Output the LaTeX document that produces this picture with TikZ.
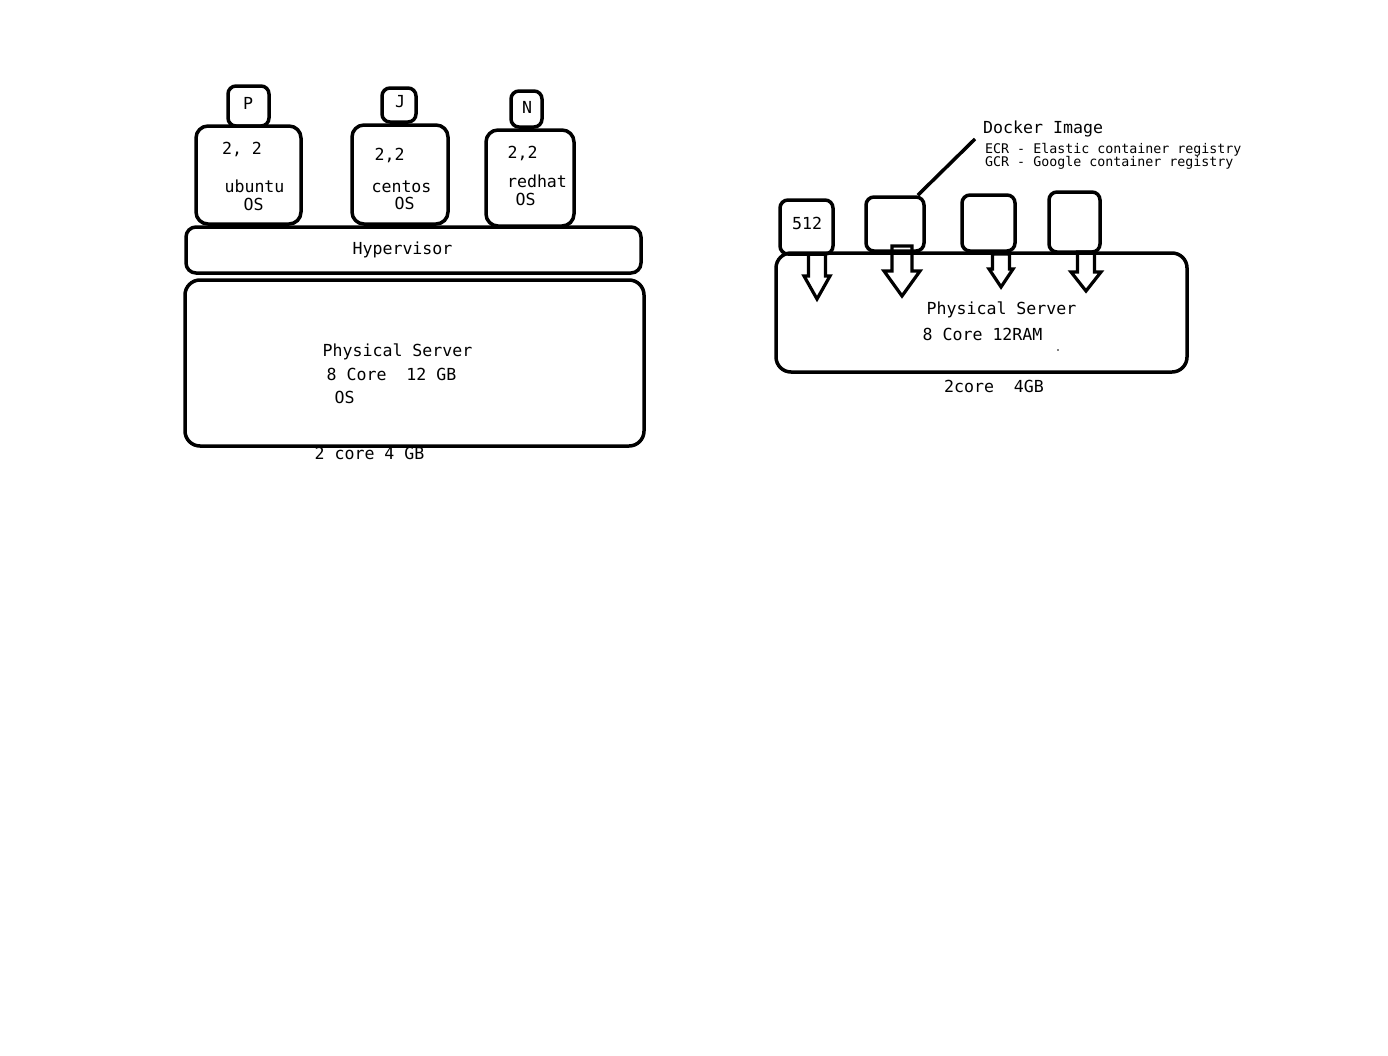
\documentclass[tikz,border=0pt]{standalone}
\usepackage{fontspec}
\setmonofont{DejaVu Sans Mono}
\usepackage{tikz}
\usetikzlibrary{positioning}
\tikzset{box/.style = {draw, line width=3.5pt, rounded corners=12pt, inner sep=0pt}}
\tikzset{arrowline/.style = {draw, line width=3.2pt, line join=miter}}
\newcommand{\dockarrow}[6]{% x, top, head top, tip, shaft half, head half
  \draw[arrowline] (#1-#5,#2) -- (#1-#5,#3) -- (#1-#6,#3) -- (#1,#4) -- (#1+#6,#3) -- (#1+#5,#3) -- (#1+#5,#2) -- cycle;}

\begin{document}
\begin{tikzpicture}[x=1pt,y=-1pt,
    lbl/.style={inner sep=0pt, font=\ttfamily\fontsize{16.6}{19}\selectfont},
    small lbl/.style={inner sep=0pt, anchor=west, font=\ttfamily\fontsize{13.3}{13}\selectfont}]
                \useasboundingbox (0,0) rectangle (1388,1055);

                % virtual machines
                \node[box, rounded corners=8pt, minimum width=41, minimum height=40] (P) at (248.5,106) {};
                \node[box, minimum width=105, minimum height=98] (ubuntu) at (248.5,175) {};
                \node[box, rounded corners=8pt, minimum width=34, minimum height=34] (J) at (399,105) {};
                \node[box, minimum width=96, minimum height=99] (centos) at (400,174.5) {};
                \node[box, rounded corners=8pt, minimum width=31, minimum height=36] (N) at (526.5,109) {};
                \node[box, minimum width=88, minimum height=96] (redhat) at (530,178) {};
                \node[box, rounded corners=10pt, minimum width=455, minimum height=46] (hyper) at (413.5,250) {};
                \node[box, rounded corners=15pt, minimum width=459, minimum height=166] (server) at (414.5,363) {};

                \node[lbl] (Plbl) at (248,103) {P};
                \node[lbl] (Jlbl) at (400,102) {J};
                \node[lbl] (Nlbl) at (527,107) {N};
                \node[lbl] (ucpu) at (242,149) {2, 2};
                \node[lbl] (uname) at (254.5,186) {ubuntu};
                \node[lbl] (uos) at (253.5,204) {OS};
                \node[lbl] (ccpu) at (389.5,155) {2,2};
                \node[lbl] (cname) at (401.5,186.5) {centos};
                \node[lbl] (cos) at (404.5,203) {OS};
                \node[lbl] (rcpu) at (522.5,153) {2,2};
                \node[lbl] (rname) at (537,181) {redhat};
                \node[lbl] (ros) at (525.5,199) {OS};
                \node[lbl] (hlbl) at (402.5,250) {Hypervisor};
                \node[lbl] (s1) at (397.5,352) {Physical Server};
                \node[lbl] (s2) at (391.5,374) {8 Core~~12 GB};
                \node[lbl] (s3) at (344.5,397) {OS};
                \node[lbl] (s4) at (369.5,453) {2 core 4 GB};

                % containers
                \node[box, rounded corners=8pt, minimum width=53, minimum height=54] (c1) at (806.5,227) {};
                \node[box, rounded corners=8pt, minimum width=58, minimum height=54] (c2) at (895,224) {};
                \node[box, rounded corners=8pt, minimum width=53, minimum height=56] (c3) at (988.5,223) {};
                \node[box, rounded corners=8pt, minimum width=51, minimum height=60] (c4) at (1074.5,222) {};
                \node[box, rounded corners=15pt, minimum width=411, minimum height=119] (dserver) at (981.5,312.5) {};

                \dockarrow{817}{254}{276}{299}{8.5}{13}
                \dockarrow{902}{246}{271}{296}{10}{18}
                \dockarrow{1001}{254}{269}{287}{8.5}{12}
                \dockarrow{1086}{252}{272}{291}{8.5}{15}

                \node[lbl] (c1lbl) at (807,223) {512};
                \node[lbl, anchor=west] (docker) at (983,129) {Docker Image};
                \node[small lbl] (ecr) at (985,150) {ECR - Elastic container registry};
                \node[small lbl] (gcr) at (985,163) {GCR - Google container registry};
                \coordinate (pointer) at (975,139);
                \draw[line width=3.5pt] ([xshift=-8pt]c2.north east) -- (pointer);

                \node[lbl] (d1) at (1001.5,310) {Physical Server};
                \node[lbl] (d2) at (982.5,334) {8 Core 12RAM};
                \node[lbl] (d3) at (994,386) {2core~~4GB};
                \fill (1058,350) circle (0.8pt);
            \end{tikzpicture}
\end{document}
